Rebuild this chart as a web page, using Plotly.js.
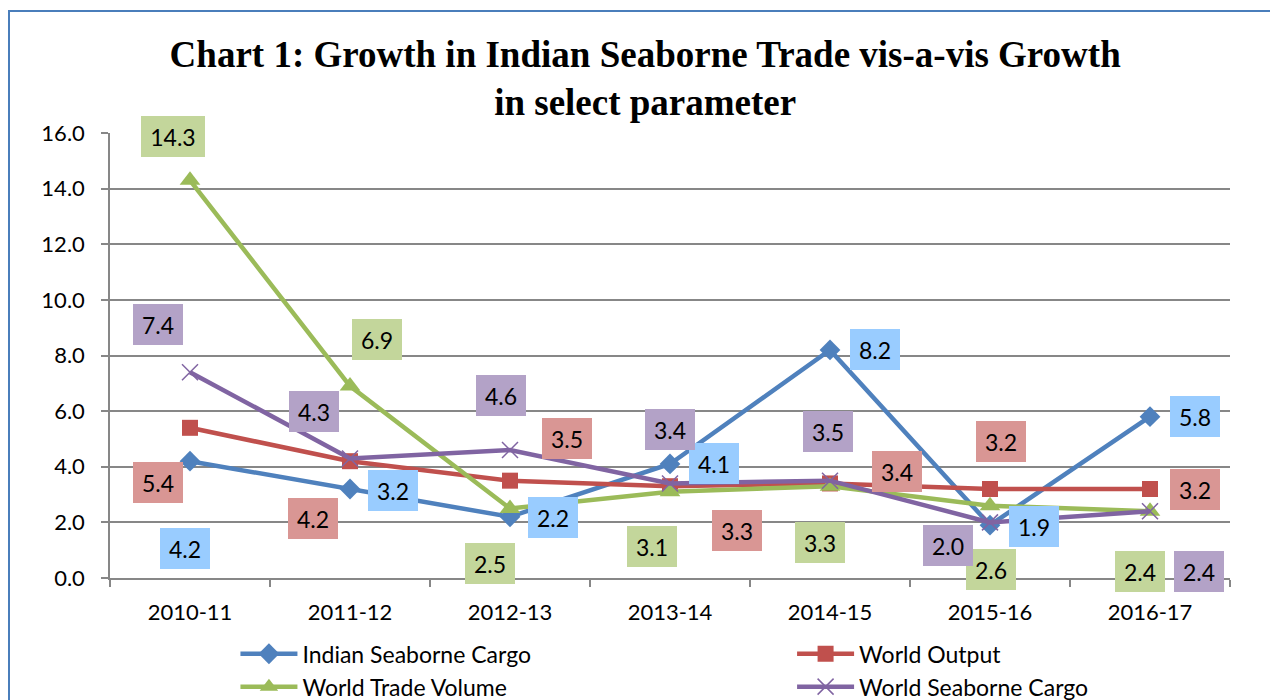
<!DOCTYPE html>
<html><head><meta charset="utf-8">
<script src="https://cdn.plot.ly/plotly-3.0.1.min.js"></script>
<style>
body{margin:0;overflow:hidden;background:#fff;}
#wrap{position:relative;width:1270px;height:700px;overflow:hidden;}
#chart{width:1270px;height:700px;}
#frame{position:absolute;left:8px;top:10px;width:1300px;height:720px;border-left:2px solid #4A7EBB;border-top:2px solid #4A7EBB;pointer-events:none;}
</style>
</head><body>
<div id="wrap"><div id="chart"></div><div id="frame"></div></div>
<script>
// ---- data ----
const years = ["2010-11","2011-12","2012-13","2013-14","2014-15","2015-16","2016-17"];
const indianSeaborneCargo = [4.2, 3.2, 2.2, 4.1, 8.2, 1.9, 5.8];
const worldOutput = [5.4, 4.2, 3.5, 3.3, 3.4, 3.2, 3.2];
const worldTradeVolume = [14.3, 6.9, 2.5, 3.1, 3.3, 2.6, 2.4];
const worldSeaborneCargo = [7.4, 4.3, 4.6, 3.4, 3.5, 2.0, 2.4];
const seriesNames = ["Indian Seaborne Cargo","World Output","World Trade Volume","World Seaborne Cargo"];

// ---- styles ----
const FONT = "Lato, 'Open Sans', sans-serif";
const lineColors = ["#4F81BD","#C0504D","#9BBB59","#8064A2"];
const labelColors = ["#99CCFF","#D99694","#C3D69B","#B3A2C7"];
const symbols = ["diamond","square","triangle-up","x-thin-open"];
const msizes = [16, 16, 18, 16];
// label offsets in pixels [dx, dy(down)]
const labelOffsets = [
  [[-5,87],[43,1],[43,1],[44,0],[45,0],[44,1],[45,0]],
  [[-32,55],[-37,57],[57,-42],[67,44],[67,-12],[11,-48],[45,0]],
  [[-17,-44],[27,-47],[-20,55],[-18,55],[-10,56],[1,64],[-10,60]],
  [[-32,-48],[-36,-47],[-9,-55],[0,-54],[-2,-49],[-42,23],[49,60]]
];
const legendOf = ["legend","legend2","legend","legend2"];

const allSeries = [indianSeaborneCargo, worldOutput, worldTradeVolume, worldSeaborneCargo];

const traces = allSeries.map((vals, i) => ({
  type: "scatter",
  mode: "lines+markers",
  name: seriesNames[i],
  x: years,
  y: vals,
  legend: legendOf[i],
  line: {color: lineColors[i], width: 4.5},
  marker: {
    symbol: symbols[i],
    size: msizes[i],
    color: lineColors[i],
    line: {color: lineColors[i], width: i === 3 ? 1.5 : 0}
  },
  hoverinfo: "x+y+name"
}));

const annotations = [];
allSeries.forEach((vals, i) => {
  vals.forEach((v, j) => {
    const txt = v.toFixed(1);
    annotations.push({
      x: years[j], y: v, xref: "x", yref: "y",
      text: txt, showarrow: false,
      xshift: labelOffsets[i][j][0], yshift: -labelOffsets[i][j][1],
      bgcolor: labelColors[i], borderpad: 3, borderwidth: 0,
      width: txt.length > 3 ? 58 : 44, height: 35,
      font: {family: FONT, size: 23, color: "#000"}
    });
  });
});

const layout = {
  width: 1270, height: 700,
  margin: {l: 110, r: 40, t: 133, b: 122, autoexpand: false},
  paper_bgcolor: "#fff", plot_bgcolor: "#fff",
  font: {family: FONT, size: 22, color: "#000"},
  title: {
    text: "<b>Chart 1: Growth in Indian Seaborne Trade vis-a-vis Growth<br>in select parameter</b>",
    font: {family: "'Liberation Serif', 'Times New Roman', serif", size: 37, color: "#000"},
    xref: "container", x: 0.508, xanchor: "center",
    yref: "container", y: 0.905, yanchor: "top"
  },
  xaxis: {
    type: "category", range: [-0.5, 6.5],
    showgrid: false, zeroline: false,
    showline: true, linecolor: "#878787", linewidth: 1.5,
    ticks: "outside", tickson: "boundaries", ticklen: 7, tickcolor: "#878787", tickwidth: 1.5,
    ticklabelstandoff: 14,
    tickfont: {family: FONT, size: 22, color: "#000"}
  },
  yaxis: {
    range: [0, 16], dtick: 2, tickformat: ".1f",
    showgrid: true, gridcolor: "#878787", gridwidth: 1.5,
    zeroline: false,
    showline: true, linecolor: "#878787", linewidth: 1.5,
    ticks: "outside", ticklen: 7, tickcolor: "#878787", tickwidth: 1.5,
    ticklabelstandoff: 12,
    tickfont: {family: FONT, size: 22, color: "#000"}
  },
  legend: {
    x: 0.112, xanchor: "left", y: -0.122, yanchor: "top",
    orientation: "v", itemwidth: 57, tracegroupgap: 0,
    bgcolor: "rgba(0,0,0,0)", borderwidth: 0,
    font: {family: FONT, size: 23, color: "#000"}
  },
  legend2: {
    x: 0.609, xanchor: "left", y: -0.122, yanchor: "top",
    orientation: "v", itemwidth: 57, tracegroupgap: 0,
    bgcolor: "rgba(0,0,0,0)", borderwidth: 0,
    font: {family: FONT, size: 23, color: "#000"}
  },
  showlegend: true,
  annotations: annotations
};

Plotly.newPlot("chart", traces, layout, {displayModeBar: false, responsive: false});
</script>
</body></html>
